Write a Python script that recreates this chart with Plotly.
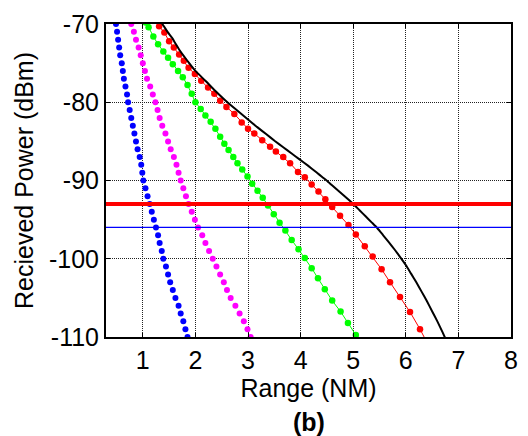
import plotly.graph_objects as go

# Received power vs range for five propagation cases (dBm vs nautical miles)
blue_x = [0.49, 0.51, 0.53, 0.55, 0.57, 0.60, 0.62, 0.64, 0.67, 0.70, 0.72,
          0.75, 0.78, 0.81, 0.84, 0.87, 0.90, 0.94, 0.97, 0.99, 1.01,
          1.05, 1.09, 1.13, 1.17, 1.21, 1.25, 1.29, 1.32, 1.36, 1.39,
          1.44, 1.48, 1.52, 1.57, 1.62, 1.68, 1.72, 1.77, 1.81, 1.85]
blue_y = [-70, -71, -72, -73, -74, -75, -76, -77, -78, -79, -80,
          -81, -82, -83, -84, -85, -86, -87, -88, -89, -90,
          -91, -92, -93, -94, -95, -96, -97, -98, -99, -100,
          -101, -102, -103, -104, -105, -106, -107, -108, -109, -110]

magenta_x = [0.78, 0.83, 0.87, 0.92, 0.96, 1.00, 1.04, 1.08, 1.14, 1.19, 1.24,
             1.28, 1.32, 1.37, 1.43, 1.48, 1.53, 1.59, 1.64, 1.68, 1.72,
             1.77, 1.82, 1.87, 1.93, 1.99, 2.05, 2.13, 2.19, 2.26, 2.33,
             2.40, 2.47, 2.54, 2.60, 2.67, 2.76, 2.84, 2.92, 2.99, 3.05]
magenta_y = [-70, -71, -72, -73, -74, -75, -76, -77, -78, -79, -80,
             -81, -82, -83, -84, -85, -86, -87, -88, -89, -90,
             -91, -92, -93, -94, -95, -96, -97, -98, -99, -100,
             -101, -102, -103, -104, -105, -106, -107, -108, -109, -110]

green_x = [1.05, 1.11, 1.20, 1.29, 1.39, 1.48, 1.57, 1.67, 1.76, 1.85, 1.93,
           2.00, 2.10, 2.19, 2.29, 2.38, 2.47, 2.55, 2.63, 2.72, 2.80,
           2.89, 2.99, 3.08, 3.18, 3.28, 3.38, 3.49, 3.60, 3.71, 3.83,
           3.96, 4.08, 4.21, 4.33, 4.46, 4.60, 4.76, 4.90, 5.05, 5.20]
green_y = [-69.8, -70.4, -71.6, -72.6, -73.5, -74.3, -75.15, -76.0, -76.8, -77.8, -78.9,
           -80.0, -80.85, -81.7, -82.5, -83.4, -84.4, -85.3, -86.1, -87.0, -87.8,
           -88.6, -89.5, -90.4, -91.3, -92.2, -93.2, -94.3, -95.4, -96.4, -97.6,
           -98.8, -99.9, -101.2, -102.5, -103.9, -105.35, -106.75, -108.2, -109.75, -111.3]

red_x = [1.24, 1.31, 1.41, 1.50, 1.59, 1.69, 1.78, 1.87, 1.99, 2.11, 2.24,
         2.36, 2.47, 2.59, 2.74, 2.88, 3.00, 3.12, 3.27, 3.42, 3.53,
         3.67, 3.80, 3.95, 4.08, 4.21, 4.34, 4.47, 4.60, 4.75, 4.91,
         5.05, 5.22, 5.37, 5.54, 5.70, 5.89, 6.08, 6.27, 6.45]
red_y = [-69.6, -70.3, -71.1, -72.2, -73.0, -73.9, -74.7, -75.6, -76.4, -77.25, -78.1,
         -78.9, -79.8, -80.6, -81.5, -82.6, -83.4, -84.0, -84.85, -85.7, -86.3,
         -87.0, -87.8, -88.9, -89.6, -90.5, -91.4, -92.4, -93.4, -94.5, -95.7,
         -96.9, -98.4, -99.7, -101.35, -103.0, -104.9, -106.8, -109.0, -111.3]

black_x = [1.28, 1.37, 1.47, 1.56, 1.63, 1.69, 1.78, 1.87, 2.00, 2.19, 2.37,
           2.56, 2.75, 3.00, 3.17, 3.35, 3.51, 3.67, 3.83, 3.98, 4.14,
           4.30, 4.41, 4.52, 4.63, 4.75, 4.87, 5.00, 5.12, 5.24, 5.35,
           5.46, 5.57, 5.68, 5.79, 5.90, 6.00, 6.10, 6.20, 6.30, 6.40,
           6.50, 6.60, 6.70, 6.78]
black_y = [-69.2, -70.0, -71.0, -71.8, -72.6, -73.25, -74.1, -74.9, -76.0, -77.25, -78.5,
           -79.7, -80.8, -82.2, -83.15, -84.1, -84.95, -85.75, -86.55, -87.3, -88.1,
           -88.95, -89.55, -90.15, -90.8, -91.5, -92.2, -93.0, -93.8, -94.6, -95.35,
           -96.1, -97.0, -97.9, -98.85, -99.85, -100.8, -101.9, -103.0, -104.2, -105.4,
           -106.7, -108.0, -109.4, -110.6]

# Sensitivity thresholds (dBm)
threshold_red = -93
threshold_blue = -96

x_range = [0.3, 8]
y_range = [-110, -70]
x_ticks = [1, 2, 3, 4, 5, 6, 7, 8]
x_tick_labels = ["1", "2", "3", "4", "5", "6", "7", "8"]
y_ticks = [-110, -100, -90, -80, -70]
y_tick_labels = ["-110", "-100", "-90", "-80", "-70"]

FONT = "Arial, 'Liberation Sans', sans-serif"
TICK_FS = 25
TITLE_FS = 25

fig = go.Figure()

fig.add_trace(go.Scatter(x=blue_x, y=blue_y, mode="markers",
                         marker=dict(color="#0000ff", size=6)))
fig.add_trace(go.Scatter(x=magenta_x, y=magenta_y, mode="markers",
                         marker=dict(color="#ff00ff", size=6)))
fig.add_trace(go.Scatter(x=green_x, y=green_y, mode="lines+markers",
                         line=dict(color="#00ff00", width=1),
                         marker=dict(color="#00ff00", size=6.5)))
fig.add_trace(go.Scatter(x=red_x, y=red_y, mode="lines+markers",
                         line=dict(color="#ff0000", width=1),
                         marker=dict(color="#ff0000", size=6.5)))
fig.add_trace(go.Scatter(x=black_x, y=black_y, mode="lines",
                         line=dict(color="#000000", width=2,
                                   shape="spline", smoothing=0.4)))

fig.add_shape(type="line", xref="x domain", yref="y", x0=0, x1=1,
              y0=threshold_red, y1=threshold_red,
              line=dict(color="#ff0000", width=4))
fig.add_shape(type="line", xref="x domain", yref="y", x0=0, x1=1,
              y0=threshold_blue, y1=threshold_blue,
              line=dict(color="#0000ff", width=1.3))

fig.add_annotation(text="<b>(b)</b>", xref="paper", yref="paper",
                   x=0.5, y=-0.272, xanchor="center", yanchor="middle",
                   showarrow=False, font=dict(family=FONT, size=25, color="black"))

axis_common = dict(
    showline=True, linecolor="black", linewidth=2, mirror="allticks",
    ticks="inside", ticklen=4, tickwidth=1, tickcolor="black",
    showgrid=True, gridcolor="#222222", gridwidth=1, griddash="1px,1px",
    zeroline=False,
    tickfont=dict(family=FONT, size=TICK_FS, color="black"),
)

fig.update_xaxes(range=x_range, tickvals=x_ticks, ticktext=x_tick_labels,
                 **axis_common,
                 title=dict(text="Range (NM)", standoff=4,
                            font=dict(family=FONT, size=TITLE_FS, color="black")))
fig.update_yaxes(range=y_range, tickvals=y_ticks, ticktext=y_tick_labels,
                 **axis_common,
                 title=dict(text="Recieved Power (dBm)", standoff=8,
                            font=dict(family=FONT, size=TITLE_FS, color="black")))

fig.update_layout(
    width=528, height=436,
    margin=dict(l=106, r=10, t=21, b=99),
    paper_bgcolor="white", plot_bgcolor="white",
    showlegend=False,
    font=dict(family=FONT),
)

fig.write_html("out.html")
